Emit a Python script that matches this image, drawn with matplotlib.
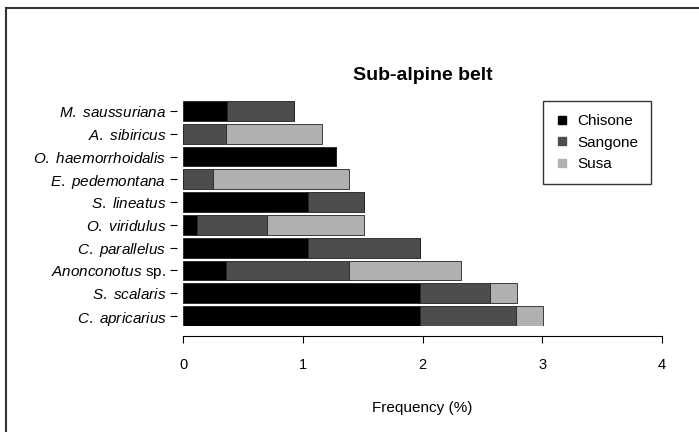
import numpy as np
import matplotlib
matplotlib.use("Agg")
import matplotlib.pyplot as plt
from matplotlib.lines import Line2D

plt.rcParams["font.family"] = ["Liberation Sans", "DejaVu Sans"]
plt.rcParams["mathtext.fontset"] = "custom"
plt.rcParams["mathtext.it"] = "Liberation Sans:italic"
plt.rcParams["mathtext.rm"] = "Liberation Sans"

# --------------------------------------------------------------------
# Data (bottom to top)
# --------------------------------------------------------------------
species = [r"$\it{C.\ apricarius}$", r"$\it{S.\ scalaris}$", r"$\it{Anonconotus}$ sp.",
           r"$\it{C.\ parallelus}$", r"$\it{O.\ viridulus}$", r"$\it{S.\ lineatus}$",
           r"$\it{E.\ pedemontana}$", r"$\it{O.\ haemorrhoidalis}$", r"$\it{A.\ sibiricus}$",
           r"$\it{M.\ saussuriana}$"]
chisone = [1.98, 1.98, 0.36, 1.04, 0.12, 1.04, 0.00, 1.28, 0.00, 0.37]
sangone = [0.80, 0.58, 1.03, 0.94, 0.58, 0.47, 0.25, 0.00, 0.36, 0.56]
susa    = [0.23, 0.23, 0.93, 0.00, 0.81, 0.00, 1.14, 0.00, 0.80, 0.00]

series = ["Chisone", "Sangone", "Susa"]
colors = ["#000000", "#4d4d4d", "#b0b0b0"]

# --------------------------------------------------------------------
# Plot
# --------------------------------------------------------------------
fig = plt.figure(figsize=(6.99, 4.32), dpi=100)
ax = fig.add_axes([183 / 699, 1 - 326 / 432, (662 - 183) / 699, (326 - 101) / 432])

y = np.arange(len(species))
left = np.zeros(len(species))
for vals, col in zip([chisone, sangone, susa], colors):
    ax.barh(y, vals, left=left, height=0.87, color=col, edgecolor="#222222", linewidth=0.6)
    left += np.array(vals)

ax.set_xlim(0, 4)
ax.set_ylim(-0.435, len(species) - 1 + 0.435)
ax.set_yticks(y)
ax.set_yticklabels(species)
ax.set_xticks([0, 1, 2, 3, 4])
ax.set_xticklabels(["0", "1", "2", "3", "4"])

for s in ["top", "right", "left"]:
    ax.spines[s].set_visible(False)
ax.spines["bottom"].set_position(("outward", 7))
ax.spines["bottom"].set_bounds(0, 4)
ax.spines["bottom"].set_linewidth(0.8)
ax.tick_params(axis="x", length=5, width=0.8, pad=11, labelsize=10.5)
ax.tick_params(axis="y", length=5, width=0.8, pad=3, direction="out", labelsize=11)
ax.spines["left"].set_position(("outward", 4))

ax.set_xlabel("Frequency (%)", fontsize=11, labelpad=21)
ax.set_title("Sub-alpine belt", fontsize=14, fontweight="bold", pad=15)

handles = [Line2D([0], [0], marker="s", linestyle="none", markersize=6,
                  markerfacecolor=c, markeredgecolor=c) for c in colors]
fig.legend(handles, series, loc="upper left", bbox_to_anchor=(543 / 699, 1 - 101 / 432),
           borderaxespad=0, frameon=True, fancybox=False, edgecolor="black", fontsize=11,
           handlelength=0.8, handletextpad=0.6, borderpad=0.85, labelspacing=0.5)

# frame lines at top and left of the picture
fig.add_artist(Line2D([6 / 699, 1], [1 - 8 / 432, 1 - 8 / 432], color="#333333", lw=1.5))
fig.add_artist(Line2D([6 / 699, 6 / 699], [0, 1 - 8 / 432], color="#333333", lw=1.5))

fig.savefig("out.png", dpi=100)
